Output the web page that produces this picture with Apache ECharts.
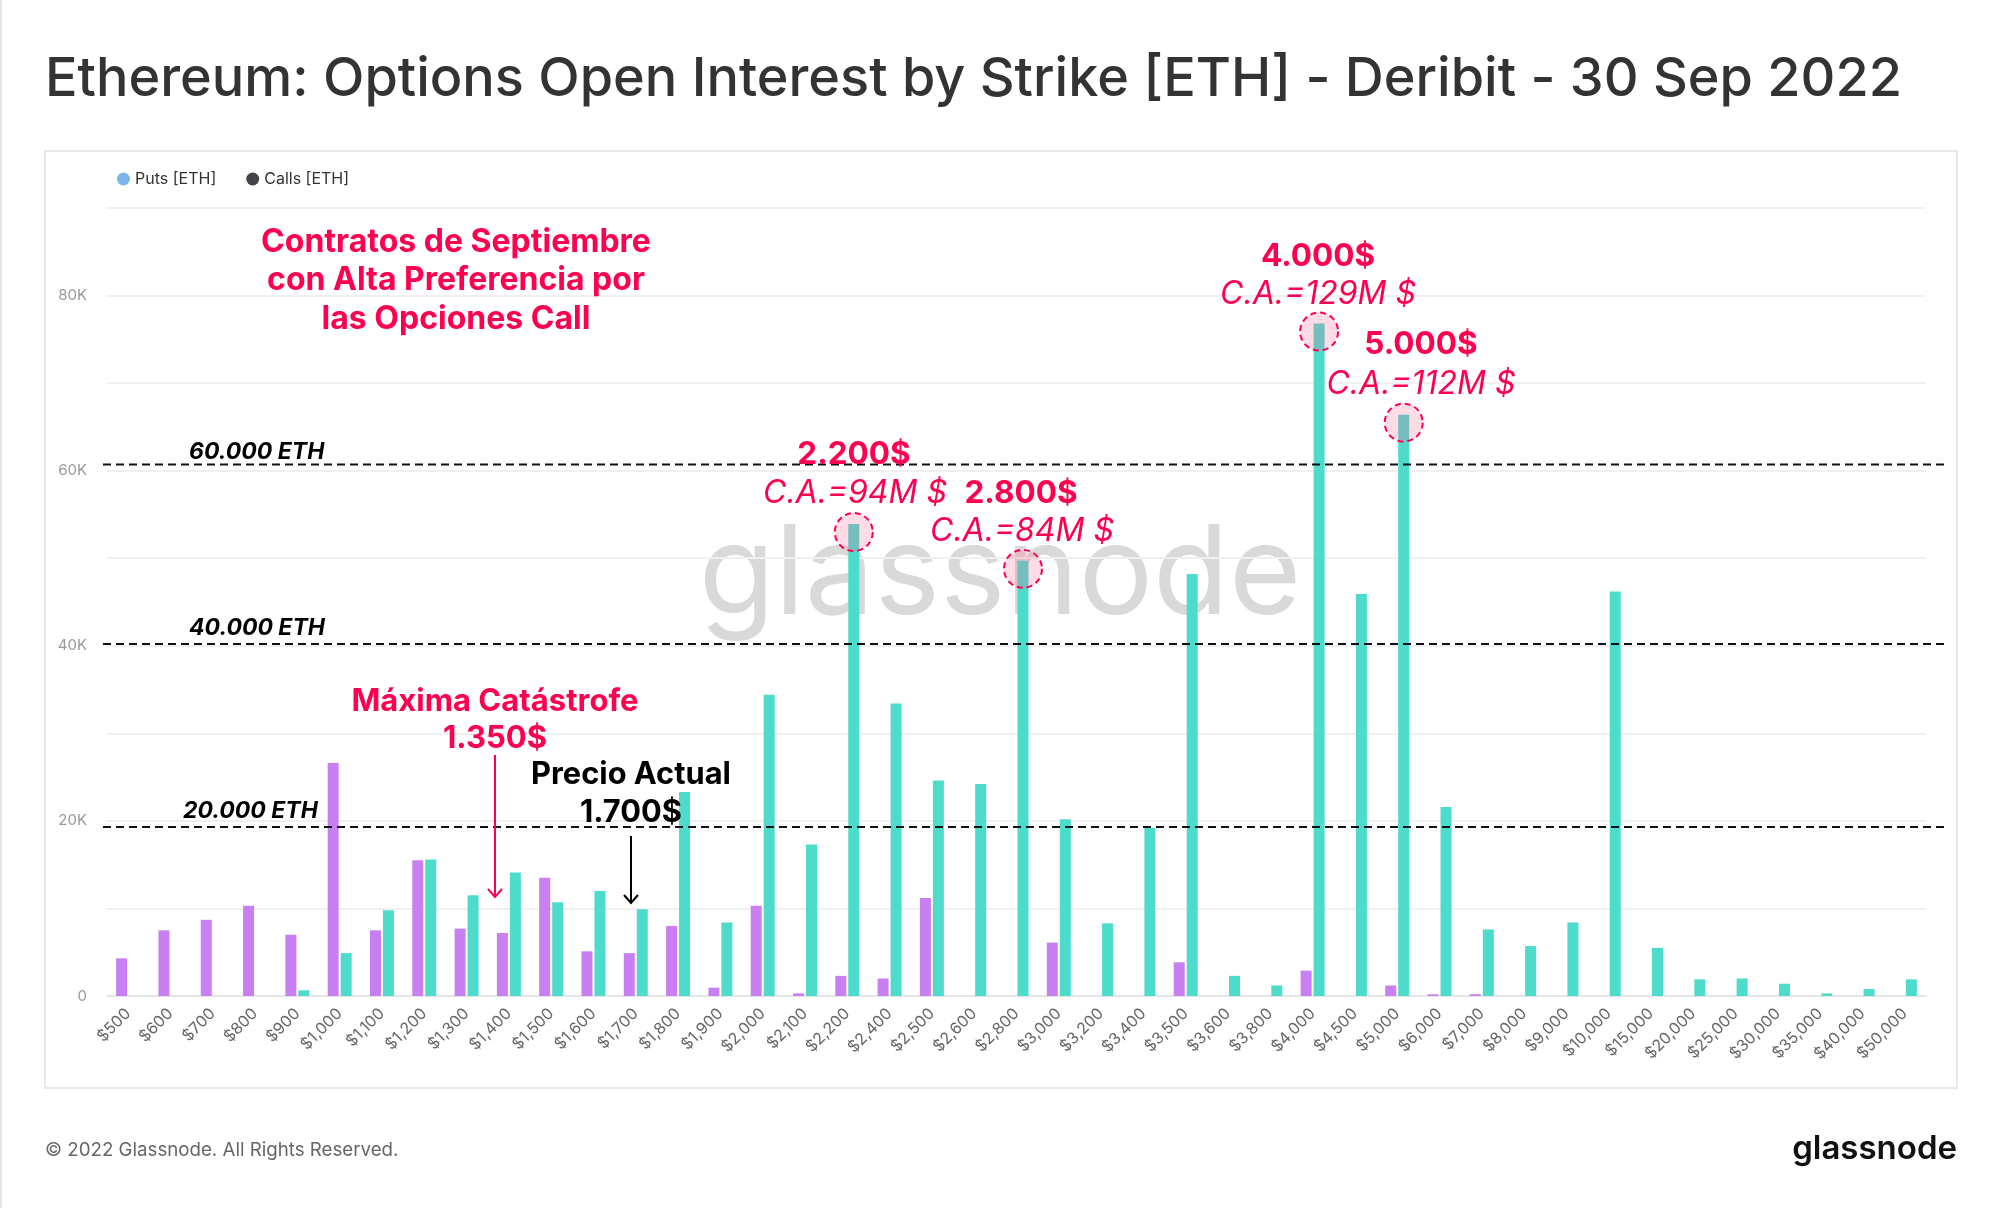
<!DOCTYPE html>
<html><head><meta charset="utf-8">
<script src="https://cdn.jsdelivr.net/npm/echarts@6/dist/echarts.min.js"></script>
<style>html,body{margin:0;padding:0;background:#fff}#c{width:2000px;height:1208px}</style>
</head><body><div id="c"></div>
<script>
const categories = ['$500','$600','$700','$800','$900','$1,000','$1,100','$1,200','$1,300','$1,400','$1,500','$1,600','$1,700','$1,800','$1,900','$2,000','$2,100','$2,200','$2,400','$2,500','$2,600','$2,800','$3,000','$3,200','$3,400','$3,500','$3,600','$3,800','$4,000','$4,500','$5,000','$6,000','$7,000','$8,000','$9,000','$10,000','$15,000','$20,000','$25,000','$30,000','$35,000','$40,000','$50,000'];
const puts = [4300,7500,8700,10300,7000,26600,7500,15500,7700,7200,13500,5100,4900,8000,950,10300,300,2300,2000,11200,0,0,6100,0,0,3850,0,0,2900,0,1200,200,200,0,0,0,0,0,0,0,0,0,0];
const calls = [0,0,0,0,650,4900,9800,15600,11500,14100,10700,12000,9900,23300,8400,34400,17300,53900,33400,24600,24200,49700,20200,8300,19200,48200,2300,1200,76800,45900,66400,21600,7600,5700,8400,46200,5500,1900,2000,1400,300,800,1900];
const highlighted = ['$2,200','$2,800','$4,000','$5,000'];
const refLines = [60700, 40200, 19300];
const refLabels = ['60.000 ETH','40.000 ETH','20.000 ETH'];
const yMax = 90000, yInterval = 10000;

const PINK = '#ff0050';
const FONT = 'Inter, "Noto Sans", sans-serif';
const chart = echarts.init(document.getElementById('c'), null, {renderer:'canvas'});

chart.setOption({
  animation:false,
  backgroundColor:'#fff',
  grid:{left:107, right:74, top:208, bottom:212, containLabel:false},
  legend:{left:112, top:166, icon:'circle', itemWidth:13, itemHeight:13, itemGap:30,
    textStyle:{fontSize:16, color:'#333', fontFamily:FONT},
    data:[{name:'Puts [ETH]', itemStyle:{color:'#7cb5ec'}},{name:'Calls [ETH]', itemStyle:{color:'#434348'}}]},
  xAxis:{type:'category', data:categories,
    axisLine:{lineStyle:{color:'#e6e6e6', width:2}}, axisTick:{show:false},
    axisLabel:{rotate:45, interval:0, margin:15, color:'#666', fontSize:16, fontFamily:FONT}},
  yAxis:{type:'value', min:0, max:yMax, interval:yInterval,
    axisLine:{show:false}, axisTick:{show:false},
    splitLine:{lineStyle:{color:'#f0f0f0', width:2}},
    axisLabel:{margin:20, color:'#999', fontSize:15, fontFamily:FONT,
      formatter:v=> v===0 ? '0' : (v % 20000 === 0 ? (v/1000)+'K' : '')}},
  series:[
    {name:'Puts [ETH]', type:'bar', data:puts, barWidth:11, barGap:'18%',
      itemStyle:{color:'#c77ff2'}},
    {name:'Calls [ETH]', type:'bar', data:calls, barWidth:11, barGap:'18%',
      itemStyle:{color:'#4ddbcc'},
      markPoint:{symbol:'circle', symbolSize:38, symbolOffset:[0,8], silent:true,
        label:{show:false},
        itemStyle:{color:'rgba(255,90,140,0.22)', borderColor:PINK, borderWidth:2, borderType:[6,4]},
        data: highlighted.map(c=>({coord:[c, calls[categories.indexOf(c)]]}))}}
  ]
});

function txt(x,y,text,font,fill,align){
  return {type:'text', z:100, style:{x:x,y:y,text:text,font:font,fill:fill,
    align:align||'center', verticalAlign:'middle', textAlign:align||'center', textVerticalAlign:'middle'}};
}
const els = [];
els.push({type:'rect', z:-10, shape:{x:45,y:151,width:1912,height:937}, style:{fill:'none', stroke:'#e8e8e8', lineWidth:2}});
els.push({type:'line', z:-10, shape:{x1:1,y1:0,x2:1,y2:1208}, style:{stroke:'#e3e3e3', lineWidth:2}});
els.push({type:'text', z:-5, style:{x:1000, y:577, text:'glassnode', font:'400 124px '+FONT, fill:'#d9d9d9', align:'center', verticalAlign:'middle', textAlign:'center', textVerticalAlign:'middle'}});
els.push(txt(45,80,'Ethereum: Options Open Interest by Strike [ETH] - Deribit - 30 Sep 2022','500 54px '+FONT,'#333','left'));
els.push(txt(45,1150,'© 2022 Glassnode. All Rights Reserved.','400 18.7px '+FONT,'#666','left'));
els.push(txt(1957,1149,'glassnode','600 33px '+FONT,'#111','right'));

const B32 = '700 32px '+FONT, B31='700 31px '+FONT, B315='700 31.5px '+FONT, I32='italic 400 32px '+FONT;
els.push(txt(456,242,'Contratos de Septiembre',B32,PINK));
els.push(txt(456,280,'con Alta Preferencia por',B32,PINK));
els.push(txt(456,319,'las Opciones Call',B32,PINK));
els.push(txt(1318,257,'4.000$',B315,PINK));
els.push(txt(1318,294,'C.A.=129M $',I32,PINK));
els.push(txt(1421,345,'5.000$',B315,PINK));
els.push(txt(1421,384,'C.A.=112M $',I32,PINK));
els.push(txt(854,455,'2.200$',B315,PINK));
els.push(txt(855,493,'C.A.=94M $',I32,PINK));
els.push(txt(1021,494,'2.800$',B315,PINK));
els.push(txt(1022,531,'C.A.=84M $',I32,PINK));
els.push(txt(495,702,'Máxima Catástrofe',B31,PINK));
els.push(txt(495,739,'1.350$',B31,PINK));
els.push(txt(631,775,'Precio Actual','700 30.8px '+FONT,'#000'));
els.push(txt(631,813,'1.700$','700 30.8px '+FONT,'#000'));
// arrows
els.push({type:'line', z:100, shape:{x1:495,y1:755,x2:495,y2:897}, style:{stroke:PINK, lineWidth:2}});
els.push({type:'polyline', z:100, shape:{points:[[488,889],[495,897],[502,889]]}, style:{stroke:PINK, lineWidth:2, fill:'none'}});
els.push({type:'line', z:100, shape:{x1:631,y1:836,x2:631,y2:903}, style:{stroke:'#000', lineWidth:2}});
els.push({type:'polyline', z:100, shape:{points:[[624,895],[631,903],[638,895]]}, style:{stroke:'#000', lineWidth:2, fill:'none'}});
// reference dashed lines through the y scale
const labelX = [189,189,183];
const labelDy = [-12,-16,-16];
refLines.forEach((v,i)=>{
  const y = chart.convertToPixel({yAxisIndex:0}, v);
  els.push({type:'line', z:90, shape:{x1:103,y1:y,x2:1947,y2:y}, style:{stroke:'#111', lineWidth:2, lineDash:[8,5]}});
  els.push(txt(labelX[i], y+labelDy[i], refLabels[i], 'italic 700 23px '+FONT, '#000', 'left'));
});
chart.setOption({graphic:{elements:els}});
</script></body></html>
